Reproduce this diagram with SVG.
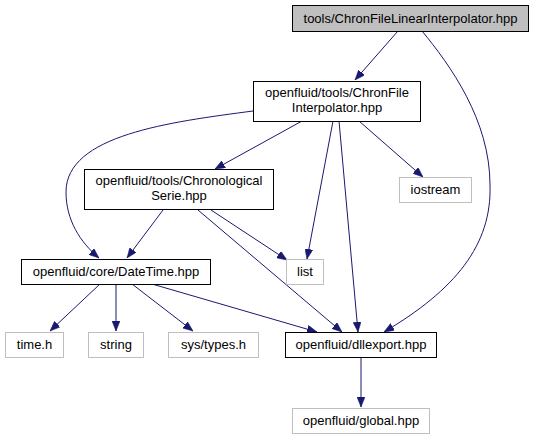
<svg xmlns="http://www.w3.org/2000/svg" width="533" height="440" viewBox="0 0 533 440">
<defs>
<style>
.n rect{fill:#ffffff;stroke:#000000;stroke-width:1}
.g rect{fill:#ffffff;stroke:#bfbfbf;stroke-width:1}
.root rect{fill:#bfbfbf;stroke:#000000;stroke-width:1}
text{font-family:"Liberation Sans",Arial,sans-serif;font-size:13px;fill:#000000;text-anchor:middle}
#edges path{fill:none;stroke:#191970;stroke-width:1;marker-end:url(#arr)}
</style>
<marker id="arr" markerUnits="userSpaceOnUse" markerWidth="10" markerHeight="8" refX="10" refY="4" orient="auto">
<path d="M0,0 L10,4 L0,8 z" fill="#191970" stroke="#191970" stroke-width="0.5"/>
</marker>
</defs>
<rect width="533" height="440" fill="#ffffff"/>
<g id="edges">
<path d="M398,31 L355,80"/>
<path d="M422,31 C450,65 490,120 490,185 C492,245 455,290 384,332"/>
<path d="M302,121 L215,169"/>
<path d="M253,111 C170,122 66,135 66,192 C66,220 80,242 99,258"/>
<path d="M333,121 L307,259"/>
<path d="M339,121 L358,332"/>
<path d="M359,121 L423,177"/>
<path d="M163,210 L127,258"/>
<path d="M211,210 L287,260"/>
<path d="M198,210 L342,332"/>
<path d="M100,284 L50,331"/>
<path d="M116,284 L116,331"/>
<path d="M132,284 L193,331"/>
<path d="M152,284 L317,332"/>
<path d="M361,357 L361,407"/>
</g>
<g id="node1" class="root"><rect x="292.5" y="5.5" width="236" height="26"/><text x="410.5" y="23">tools/ChronFileLinearInterpolator.hpp</text></g>
<g id="node2" class="n"><rect x="253.5" y="81.5" width="167" height="40"/><text x="337" y="97">openfluid/tools/ChronFile</text><text x="337" y="112">Interpolator.hpp</text></g>
<g id="node3" class="n"><rect x="84.5" y="169.5" width="189" height="40"/><text x="179" y="185">openfluid/tools/Chronological</text><text x="179" y="200">Serie.hpp</text></g>
<g id="node4" class="n"><rect x="21.5" y="259.5" width="189" height="25"/><text x="116" y="276">openfluid/core/DateTime.hpp</text></g>
<g id="node5" class="g"><rect x="399.5" y="177.5" width="72" height="25"/><text x="435.5" y="194">iostream</text></g>
<g id="node6" class="g"><rect x="286.5" y="259.5" width="37" height="25"/><text x="305" y="276">list</text></g>
<g id="node7" class="g"><rect x="5.5" y="332.5" width="58" height="25"/><text x="34.5" y="349">time.h</text></g>
<g id="node8" class="g"><rect x="88.5" y="332.5" width="55" height="25"/><text x="116" y="349">string</text></g>
<g id="node9" class="g"><rect x="168.5" y="332.5" width="90" height="25"/><text x="213.5" y="349">sys/types.h</text></g>
<g id="node10" class="n"><rect x="285.5" y="332.5" width="151" height="25"/><text x="361" y="349">openfluid/dllexport.hpp</text></g>
<g id="node11" class="g"><rect x="292.5" y="408.5" width="137" height="25"/><text x="361" y="425">openfluid/global.hpp</text></g>
</svg>
